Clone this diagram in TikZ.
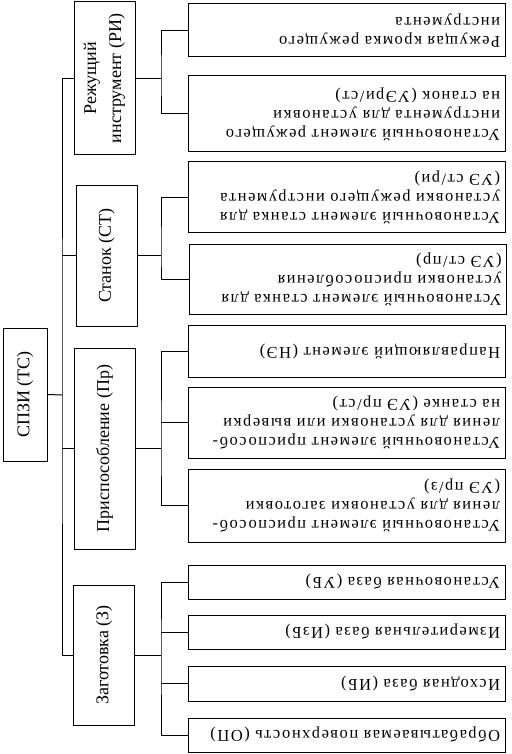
\documentclass[tikz,border=0pt]{standalone}
\usepackage{fontspec}
\setmainfont{Liberation Serif}
\newfontfamily\widefont[LetterSpace=9.0]{Liberation Serif}
\usetikzlibrary{positioning,calc}

\begin{document}
\begin{tikzpicture}[x=1pt,y=-1pt,font=\fontsize{18}{19}\selectfont,line width=1pt,
  root/.style={draw,rotate=90,minimum width=133pt,minimum height=44pt,inner sep=0pt},
  grp/.style={draw,rotate=90,align=center,minimum height=61pt,inner sep=0pt,font=\fontsize{18}{25}\selectfont},
  elm/.style={draw,rotate=180,align=left,text width=307pt,minimum width=317pt,inner sep=5pt,font=\widefont\fontsize{16.5}{19}\selectfont}]
\useasboundingbox (0,0) rectangle (511,754);
\node[root] (ts) at (25,394.5) {СПЗИ (ТС)};
% groups
\node[grp,minimum width=153pt] (ri) at (104.5,78.5) {Режущий\\инструмент (РИ)};
\node[grp,minimum width=141pt] (st) at (106.5,255.5) {Станок (СТ)};
\node[grp,minimum width=201pt] (pr) at (104.5,448.5) {Приспособление (Пр)};
\node[grp,minimum width=140pt] (zg) at (104,655) {Заготовка (З)};
% elements
\node[elm,minimum height=53pt] (b1) at (346.5,30.5) {Режущая кромка режущего\\инструмента};
\node[elm,minimum height=76pt] (b2) at (346.5,114) {Установочный элемент режущего\\инструмента для установки\\на станок (УЭри/ст)};
\node[elm,minimum height=70pt] (b3) at (346.5,197) {Установочный элемент станка для\\установки режущего инструмента\\(УЭ ст/ри)};
\node[elm,minimum height=70pt] (b4) at (348,279) {Установочный элемент станка для\\установки приспособления\\(УЭ ст/пр)};
\node[elm,minimum height=52pt] (b5) at (346.5,351) {Направляющий элемент (НЭ)};
\node[elm,minimum height=71pt] (b6) at (346.5,422.5) {Установочный элемент приспособ-\\ления для установки или выверки\\на станке (УЭ пр/ст)};
\node[elm,minimum height=73pt] (b7) at (346.5,505.5) {Установочный элемент приспособ-\\ления для установки заготовки\\(УЭ пр/з)};
\node[elm,minimum height=34pt] (b8) at (346.5,582) {Установочная база (УБ)};
\node[elm,minimum height=34pt] (b9) at (346.5,632) {Измерительная база (ИзБ)};
\node[elm,minimum height=35pt] (b10) at (346.5,683.5) {Исходная база (ИБ)};
\node[elm,minimum height=34pt] (b11) at (346.5,735) {Обрабатываемая поверхность (ОП)};
% junctions
\coordinate (tr) at (62,395);
\coordinate (j1) at (161,78.5);
\coordinate (j2) at (161,255.5);
\coordinate (j3) at (161,448.5);
\coordinate (j4) at (161,655);
\draw (ts.south) -- (tr);
\draw (ri.north) -| (tr) |- (zg.north);
\draw (st.north) -- (st.north -| tr);
\draw (pr.north) -- (pr.north -| tr);
\draw (ri.south) -- (j1); \draw (b1.east) -| (j1) |- (b2.east);
\draw (st.south) -- (j2); \draw (b3.east) -| (j2) |- (b4.east);
\draw (pr.south) -- (j3); \draw (b5.east) -| (j3) |- (b7.east);
\draw (b6.east) -- (b6.east -| j3);
\draw (zg.south) -- (j4); \draw (b8.east) -| (j4) |- (b11.east);
\draw (b9.east) -- (b9.east -| j4);
\draw (b10.east) -- (b10.east -| j4);
\end{tikzpicture}
\end{document}
